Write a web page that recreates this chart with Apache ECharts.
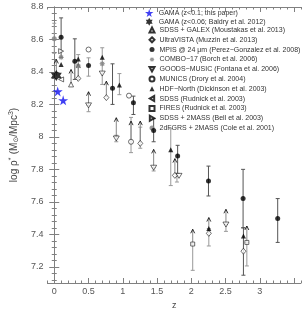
<!DOCTYPE html>
<html><head><meta charset="utf-8">
<script src="https://cdn.jsdelivr.net/npm/echarts@6/dist/echarts.min.js"></script>
<style>html,body{margin:0;padding:0;background:#fff}#c{width:306px;height:322px}</style>
</head><body><div id="c"></div>
<script>
// ---- data (z, log rho*) ----
const gamaNew   = [[0.05,8.28],[0.13,8.225]];
const gama12    = [[0.03,8.378]];
const sdssGalex = [[0.245,8.323]];
const ultraVista= [[0.35,8.36],[0.76,8.242],[1.255,7.96],[1.76,7.763],[2.255,7.406],[2.76,7.296]];
const mpis      = [[0.1,8.614],[0.3,8.466],[0.5,8.44],[0.85,8.30],[1.155,8.21],[1.45,8.04],[1.80,7.882],[2.25,7.728],[2.755,7.62],[3.26,7.497]];
const combo17   = [[0.1,8.49],[0.35,8.436],[0.7,8.45]];
const goods     = [[0.5,8.194],[0.7,8.39],[0.905,7.99],[1.45,7.81],[1.82,7.76],[2.505,7.46]];
const munics    = [[0.5,8.538],[1.09,8.254],[1.12,7.97]];
const hdfn      = [[0.1,8.446],[0.35,8.48],[0.7,8.49],[0.95,8.32],[1.70,7.92],[2.255,7.435],[2.76,7.39]];
const sdssR     = [[0.1,8.354]];
const fires     = [[2.02,7.34],[2.81,7.35]];
const sdss2mass = [[0.1,8.528]];
const twodf     = [[0.0,8.604]];
// error bars: [z, low, high, dark]
const errBars = [
 [0.0,8.515,8.70,0],[0.1,8.49,8.733,1],[0.3,8.354,8.604,1],[0.35,8.354,8.507,0],
 [0.5,8.374,8.487,0],[0.5,8.155,8.194,0],[0.7,8.323,8.549,0],[0.85,8.20,8.45,1],
 [0.95,8.26,8.39,0],[1.155,8.138,8.251,1],[0.905,7.97,8.01,0],[1.12,7.903,8.12,0],
 [1.255,7.93,8.06,0],[1.45,7.97,8.112,1],[1.45,7.79,7.81,0],[1.70,7.70,8.05,0],
 [1.80,7.775,7.948,1],[1.79,7.722,7.76,0],[2.25,7.636,7.82,1],[2.755,7.44,7.80,1],
 [2.76,7.148,7.44,1],[3.26,7.35,7.62,1],[2.02,7.178,7.34,0],[2.255,7.328,7.435,0],
 [2.505,7.418,7.46,0],[2.81,7.205,7.35,0]
];
// arrows: [z, from, to]
const arrows = [
 [0.03,8.378,8.477],[0.245,8.323,8.415],[0.35,8.36,8.45],[0.5,8.194,8.278],
 [0.76,8.242,8.343],[0.905,7.99,8.118],[1.12,7.97,8.097],[1.255,7.96,8.097],
 [1.45,7.81,7.923],[1.76,7.763,7.866],[2.02,7.34,7.431],[2.255,7.406,7.503],
 [2.505,7.46,7.554],[2.81,7.35,7.451]
];
const xMajor = [0,0.5,1,1.5,2,2.5,3,3.5];
const xLabels = [0,0.5,1,1.5,2,2.5,3];
const yMajor = [7.2,7.4,7.6,7.8,8.0,8.2,8.4,8.6,8.8];
const yLabels = [7.2,7.4,7.6,7.8,8.0,8.2,8.4,8.6,8.8];
const xMinor = []; for (let i=-1;i<=36;i++) xMinor.push(+(i*0.1).toFixed(2));
const yMinor = []; for (let i=0;i<=43;i++) yMinor.push(+(7.12+i*0.04).toFixed(2));

const names = ['GAMA (z<0.1; this paper)','GAMA (z<0.06; Baldry et al. 2012)',
 'SDSS + GALEX (Moustakas et al. 2013)','UltraVISTA (Muzzin et al. 2013)',
 'MPIS @ 24 μm (Perez−Gonzalez et al. 2008)','COMBO−17 (Borch et al. 2006)',
 'GOODS−MUSIC (Fontana et al. 2006)','MUNICS (Drory et al. 2004)',
 'HDF−North (Dickinson et al. 2003)','SDSS (Rudnick et al. 2003)',
 'FIRES (Rudnick et al. 2003)','SDSS + 2MASS (Bell et al. 2003)','2dFGRS + 2MASS (Cole et al. 2001)'];

const STAR5='path://M50,0 L61,35 L98,35 L68,57 L79,91 L50,70 L21,91 L32,57 L2,35 L39,35 Z';
const STAR6='path://M50,0 L64,25 L93,25 L79,50 L93,75 L64,75 L50,100 L36,75 L7,75 L21,50 L7,25 L36,25 Z';
const TRI_DN='path://M0,0 L100,0 L50,87 Z';
const TRI_L='path://M87,0 L87,100 L0,50 Z';
const TRI_R='path://M0,0 L0,100 L87,50 Z';
const BURST='path://M50,0 L62.2,20.4 L85.4,14.6 L79.6,37.8 L100,50 L79.6,62.2 L85.4,85.4 L62.2,79.6 L50,100 L37.8,79.6 L14.6,85.4 L20.4,62.2 L0,50 L20.4,37.8 L14.6,14.6 L37.8,20.4 Z';

const FONT='Liberation Sans, Arial, sans-serif';
const open = {color:'#fff',borderColor:'#000',borderWidth:0.7};
function sc(name,data,symbol,size,style,z){
  return {type:'scatter',name,data,symbol,symbolSize:size,itemStyle:style,z:z||4,
          xAxisIndex:0,yAxisIndex:0,silent:true,animation:false};
}
const series = [
 {type:'custom',name:'err',xAxisIndex:0,yAxisIndex:0,silent:true,z:1,animation:false,
  encode:{x:0,y:[1,2]},data:errBars,
  renderItem:(p,api)=>{
    const x=api.value(0),lo=api.value(1),hi=api.value(2),dk=api.value(3);
    const a=api.coord([x,lo]),b=api.coord([x,hi]);
    const col=dk?'#555':'#999',c=2;
    const st={stroke:col,lineWidth:1};
    return {type:'group',children:[
      {type:'line',shape:{x1:a[0],y1:a[1],x2:b[0],y2:b[1]},style:st},
      {type:'line',shape:{x1:a[0]-c,y1:a[1],x2:a[0]+c,y2:a[1]},style:st},
      {type:'line',shape:{x1:b[0]-c,y1:b[1],x2:b[0]+c,y2:b[1]},style:st}]};
  }},
 {type:'custom',name:'arr',xAxisIndex:0,yAxisIndex:0,silent:true,z:2,animation:false,
  encode:{x:0,y:[1,2]},data:arrows,
  renderItem:(p,api)=>{
    const x=api.value(0),f=api.value(1),t=api.value(2);
    const a=api.coord([x,f]),b=api.coord([x,t]);
    return {type:'group',children:[
      {type:'line',shape:{x1:a[0],y1:a[1],x2:b[0],y2:b[1]},style:{stroke:'#888',lineWidth:1}},
      {type:'polyline',shape:{points:[[b[0]-2,b[1]+4],[b[0],b[1]],[b[0]+2,b[1]+4]]},style:{stroke:'#000',fill:null,lineWidth:0.8}}]};
  }},
 sc(names[0],gamaNew,STAR5,10,{color:'#1010f0'},6),
 sc(names[1],gama12,STAR6,11,{color:'#000'},6),
 sc(names[2],sdssGalex,'triangle',5,open),
 sc(names[3],ultraVista,'diamond',[5,6],open),
 sc(names[4],mpis,'circle',5,{color:'#000'}),
 sc(names[5],combo17,BURST,6,{color:'#808080'}),
 sc(names[6],goods,TRI_DN,[6,5],open),
 sc(names[7],munics,'circle',5,open),
 sc(names[8],hdfn,'triangle',5,{color:'#000'}),
 sc(names[9],sdssR,TRI_L,[5,5],open),
 sc(names[10],fires,'rect',4,open),
 sc(names[11],sdss2mass,TRI_R,[5,5],open),
 sc(names[12],twodf,'circle',5,{color:'#808080'})
];
const axLine={show:true,lineStyle:{color:'#808080',width:1}};
const tickSt={color:'#808080',width:1};
function xAx(pos,major,labels){
  return {type:'value',min:-0.1,max:3.6,position:pos,
    axisLine: major?axLine:{show:false},
    axisTick:{show:true,inside:true,length:major?5:2.5,customValues:major?xMajor:xMinor,lineStyle:tickSt},
    axisLabel: labels?{show:true,customValues:xLabels,fontSize:9,color:'#555',fontFamily:FONT,margin:4}:{show:false},
    splitLine:{show:false},
    name: labels?'z':'',nameLocation:'middle',nameGap:14,
    nameTextStyle:{fontSize:9,color:'#444',fontFamily:FONT}};
}
function yAx(pos,major,labels){
  return {type:'value',min:7.1,max:8.8,position:pos,
    axisLine: major?axLine:{show:false},
    axisTick:{show:true,inside:true,length:major?5:2.5,customValues:major?yMajor:yMinor,lineStyle:tickSt},
    axisLabel: labels?{show:true,customValues:yLabels,fontSize:9,color:'#555',fontFamily:FONT,margin:4,
       formatter:v=>(Math.abs(v-8)<1e-6?'8':v.toFixed(1))}:{show:false},
    splitLine:{show:false},
    name: labels?'{a|log ρ}{s|*} {a|(M}{b|⊙}{a|/Mpc}{s|3}{a|)}':'',
    nameLocation:'middle',nameGap:19,nameRotate:90,
    nameTextStyle:{fontFamily:FONT,color:'#444',rich:{
      a:{fontSize:10,color:'#444',fontFamily:FONT},
      s:{fontSize:7,color:'#444',fontFamily:FONT,verticalAlign:'top'},
      b:{fontSize:7,color:'#444',fontFamily:'DejaVu Sans',verticalAlign:'bottom'}}}};
}
const legTxt={fontSize:7,color:'#333',fontFamily:FONT};
const option={
  animation:false,
  grid:{left:30,right:5,top:7,bottom:39,containLabel:false},
  xAxis:[xAx('bottom',true,true),xAx('bottom',false,false),xAx('top',true,false),xAx('top',false,false)],
  yAxis:[yAx('left',true,true),yAx('left',false,false),yAx('right',true,false),yAx('right',false,false)],
  legend:[
    {orient:'vertical',left:145,top:9,padding:0,itemWidth:9,itemHeight:8,itemGap:0.8,
     data:names.slice(0,2),textStyle:legTxt,selectedMode:false},
    {orient:'vertical',left:148.5,top:26.5,padding:0,itemWidth:5,itemHeight:5,itemGap:2.8,
     data:names.slice(2),textStyle:legTxt,selectedMode:false}
  ],
  series
};
const ch=echarts.init(document.getElementById('c'),null,{renderer:'canvas'});
ch.setOption(option);
</script></body></html>
